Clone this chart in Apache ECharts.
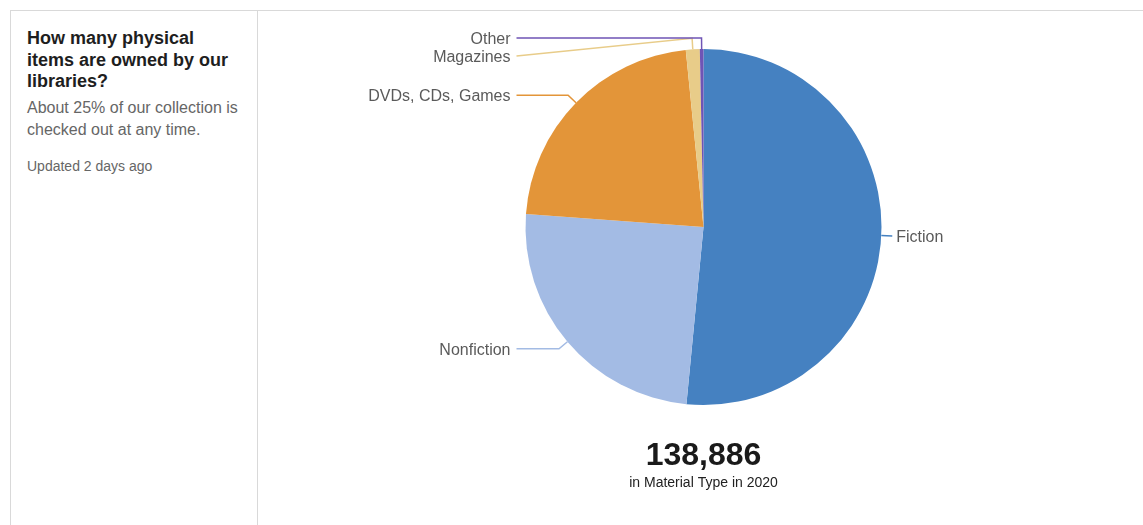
<!DOCTYPE html>
<html>
<head>
<meta charset="utf-8">
<title>Physical items owned by our libraries</title>
<script src="https://cdn.jsdelivr.net/npm/echarts@6/dist/echarts.min.js"></script>
<style>
  html, body { margin: 0; padding: 0; background: #fff; }
  body { width: 1143px; height: 525px; position: relative; overflow: hidden;
         font-family: "Liberation Sans", Arial, Helvetica, sans-serif; }
  .card { position: absolute; left: 10px; top: 10px; width: 1200px; height: 600px;
          border-top: 1px solid #d9d9d9; border-left: 1px solid #d9d9d9; }
  .side { position: absolute; left: 0; top: 0; width: 247px; height: 100%;
          border-right: 1px solid #d9d9d9; box-sizing: border-box; }
  .side h2 { margin: 0; position: absolute; left: 16px; top: 17px; width: 215px;
             font-size: 18px; line-height: 21.5px; font-weight: bold; color: #1e1e1e; }
  .side p.sub { margin: 0; position: absolute; left: 16px; top: 86px; width: 220px;
                font-size: 16px; line-height: 22px; color: #666; }
  .side p.upd { margin: 0; position: absolute; left: 16px; top: 146px;
                font-size: 14px; line-height: 18px; color: #666; }
  #chart { position: absolute; left: 259px; top: 11px; width: 884px; height: 514px; }
</style>
</head>
<body>
<div class="card">
  <div class="side">
    <h2>How many physical items are owned by our libraries?</h2>
    <p class="sub">About 25% of our collection is checked out at any time.</p>
    <p class="upd">Updated 2 days ago</p>
  </div>
</div>
<div id="chart"></div>
<script>
// Material types and item counts (2020)
const categories = ['Fiction', 'Nonfiction', 'DVDs, CDs, Games', 'Magazines', 'Other'];
const itemCounts = [71568, 34222, 30888, 1750, 458];
const sliceColors = ['#4581c1', '#a3bbe4', '#e39539', '#e8cc89', '#6f54b5'];
const captionText = 'in Material Type in 2020';

// Pie geometry inside the chart box
const CX = 444.5, CY = 216, R = 178;
const LINE_LEN = 11;      // radial part of the leader line
const LINE_REACH = 9;     // how far past the rim the leader ends
const GAP_LEFT = 6, GAP_RIGHT = 4;
const TEXT_NUDGE = 1.5;   // optical centring of the text on its leader

const total = itemCounts.reduce((a, b) => a + b, 0);

const chart = echarts.init(document.getElementById('chart'), null, { renderer: 'canvas' });

chart.setOption({
  animation: false,
  color: sliceColors,
  graphic: [
    {
      type: 'text', x: CX, y: 445,
      style: {
        text: total.toLocaleString('en-US'),
        font: 'bold 32px "Liberation Sans", Arial, sans-serif',
        fill: '#1a1a1a', align: 'center', verticalAlign: 'middle'
      }
    },
    {
      type: 'text', x: CX, y: 472,
      style: {
        text: captionText,
        font: '14px "Liberation Sans", Arial, sans-serif',
        fill: '#222', align: 'center', verticalAlign: 'middle'
      }
    }
  ],
  series: [{
    type: 'pie',
    center: [CX, CY],
    radius: R,
    startAngle: 90,
    clockwise: true,
    avoidLabelOverlap: true,
    itemStyle: { borderWidth: 0 },
    label: {
      show: true,
      formatter: '{b}',
      fontFamily: '"Liberation Sans", Arial, sans-serif',
      fontSize: 16,
      lineHeight: 14,
      color: '#5a5a5a'
    },
    labelLine: {
      show: true,
      length: LINE_LEN,
      length2: 10,
      smooth: false,
      lineStyle: { width: 1.5 }
    },
    emphasis: { disabled: true },
    labelLayout: function (params) {
      const pts = params.labelLinePoints;
      if (!pts) return {};
      const p0 = pts[0];
      const dx = p0[0] - CX, dy = p0[1] - CY;
      const d = Math.sqrt(dx * dx + dy * dy) || 1;
      const p1 = [p0[0] + dx / d * LINE_LEN, p0[1] + dy / d * LINE_LEN];
      const isLeft = p0[0] < CX;
      const rect = params.labelRect;
      const y = rect.y + rect.height / 2;
      const endX = isLeft ? Math.min(p1[0], CX - R - LINE_REACH)
                          : Math.max(p1[0], CX + R + LINE_REACH);
      return {
        x: isLeft ? endX - GAP_LEFT : endX + GAP_RIGHT,
        y: y + TEXT_NUDGE,
        align: isLeft ? 'right' : 'left',
        verticalAlign: 'middle',
        labelLinePoints: [p0, p1, [endX, y]]
      };
    },
    data: categories.map((name, i) => ({ name: name, value: itemCounts[i] }))
  }]
});
</script>
</body>
</html>
